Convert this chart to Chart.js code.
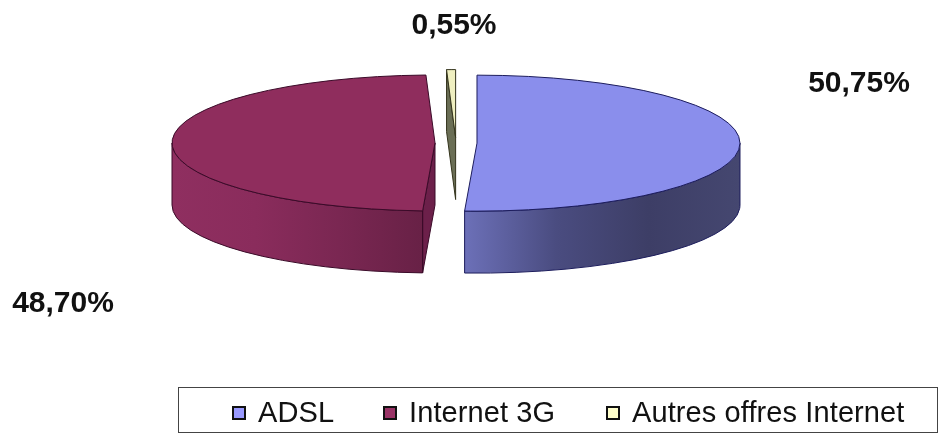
<!DOCTYPE html>
<html>
<head>
<meta charset="utf-8">
<script src="https://cdn.jsdelivr.net/npm/chart.js@4"></script>
<style>
    html, body { margin: 0; padding: 0; background: #fff; }
    #wrap { position: relative; width: 949px; height: 436px; overflow: hidden; font-family: "Liberation Sans", Arial, sans-serif; }
    canvas { position: absolute; left: 0; top: 0; }
    #legend { position: absolute; left: 178px; top: 387px; width: 760px; height: 46px; box-sizing: border-box; border: 1px solid #444; }
    #legend div { position: absolute; top: 0; height: 44px; line-height: 48px; font-size: 29px; letter-spacing: 0.1px; color: #111; white-space: nowrap; }
    #legend i { position: absolute; top: 18px; left: -26px; width: 10px; height: 10px; border: 2px solid #111; }
</style>
</head>
<body>
<div id="wrap">
    <canvas id="pie" width="949" height="436"></canvas>
    <div id="legend"></div>
</div>
<script>
const categories = ['ADSL', 'Internet 3G', 'Autres offres Internet'];
const shares = [50.75, 48.70, 0.55];

const topColors = ['#8a8eec', '#8f2d5d', '#efefc0'];
const swatchColors = ['#9999ff', '#993366', '#ffffcc'];
const edgeColors = ['#1c1c5c', '#3a0a28', '#33331c'];
const faceColors = ['#5b5d9c', '#6c204a', '#6a6e55'];
const wallStops = [
    ['#6c70b8', '#4a4c80', '#3d3e66', '#454770'],
    ['#8f2f60', '#8a2c5c', '#7a2752', '#682146'],
    ['#6a6e55', '#6a6e55', '#6a6e55', '#6a6e55']
];

// place des pourcentages et du texte de la légende
const labelSpots = [[859, 84], [63, 304], [454, 26]];
const legendLefts = [79, 230, 453];

const squash = 0.2585;
const depth = 62;
const explode = 21;

function centerY(chart) {
    return (chart.chartArea.top + chart.chartArea.bottom) / 2;
}

function sliceGeometry(chart, arc) {
    const midY = centerY(chart);
    return {
        cx: arc.x,
        cy: midY + (arc.y - midY) * squash,
        r: arc.outerRadius,
        start: arc.startAngle,
        end: arc.endAngle
    };
}

function topPoint(g, a) {
    return [g.cx + Math.cos(a) * g.r, g.cy + Math.sin(a) * g.r * squash];
}

function drawFace(ctx, g, a, color, edge) {
    const q = topPoint(g, a);
    ctx.beginPath();
    ctx.moveTo(g.cx, g.cy);
    ctx.lineTo(q[0], q[1]);
    ctx.lineTo(q[0], q[1] + depth);
    ctx.lineTo(g.cx, g.cy + depth);
    ctx.closePath();
    ctx.fillStyle = color;
    ctx.strokeStyle = edge;
    ctx.fill();
    ctx.stroke();
}

// le côté du camembert, sous les parts dessinées par Chart.js
const sidePlugin = {
    id: 'side',
    afterDatasetUpdate(chart) {
        // l'option offset de Chart.js rétrécit les petites parts, on écarte donc à la main
        chart.getDatasetMeta(0).data.forEach(arc => {
            const mid = (arc.startAngle + arc.endAngle) / 2;
            arc.x += Math.cos(mid) * explode;
            arc.y += Math.sin(mid) * explode;
        });
    },
    beforeDatasetDraw(chart) {
        const ctx = chart.ctx;
        const arcs = chart.getDatasetMeta(0).data;
        ctx.save();
        ctx.lineWidth = 1;
        arcs.forEach((arc, i) => {
            const g = sliceGeometry(chart, arc);
            // faces coupées visibles seulement si elles regardent vers le bas
            if (-Math.cos(g.start) > 0.001) drawFace(ctx, g, g.start, faceColors[i], edgeColors[i]);
            if (Math.cos(g.end) > 0.001) drawFace(ctx, g, g.end, faceColors[i], edgeColors[i]);

            const a0 = Math.max(g.start, 0);
            const a1 = Math.min(g.end, Math.PI);
            if (a1 > a0) {
                const left = Math.min(topPoint(g, a0)[0], topPoint(g, a1)[0]);
                const right = Math.max(topPoint(g, a0)[0], topPoint(g, a1)[0]);
                const grad = ctx.createLinearGradient(left, 0, right, 0);
                const stops = wallStops[i];
                stops.forEach((c, n) => grad.addColorStop(n / (stops.length - 1), c));
                ctx.beginPath();
                ctx.ellipse(g.cx, g.cy, g.r, g.r * squash, 0, a0, a1);
                ctx.ellipse(g.cx, g.cy + depth, g.r, g.r * squash, 0, a1, a0, true);
                ctx.closePath();
                ctx.fillStyle = grad;
                ctx.strokeStyle = edgeColors[i];
                ctx.fill();
                ctx.stroke();
            }
        });
        ctx.restore();

        // aplatit le disque pour la perspective
        const midY = centerY(chart);
        ctx.save();
        ctx.translate(0, midY);
        ctx.scale(1, squash);
        ctx.translate(0, -midY);
    },
    afterDatasetDraw(chart) {
        const ctx = chart.ctx;
        ctx.restore();
        ctx.save();
        ctx.lineWidth = 1;
        chart.getDatasetMeta(0).data.forEach((arc, i) => {
            const g = sliceGeometry(chart, arc);
            const q = topPoint(g, g.start);
            ctx.beginPath();
            ctx.moveTo(g.cx, g.cy);
            ctx.lineTo(q[0], q[1]);
            ctx.ellipse(g.cx, g.cy, g.r, g.r * squash, 0, g.start, g.end);
            ctx.closePath();
            ctx.strokeStyle = edgeColors[i];
            ctx.stroke();
        });
        ctx.restore();
    },
    afterDraw(chart) {
        const ctx = chart.ctx;
        ctx.save();
        ctx.font = 'bold 30px "Liberation Sans", Arial, sans-serif';
        ctx.fillStyle = '#111';
        ctx.textAlign = 'center';
        ctx.textBaseline = 'middle';
        shares.forEach((v, i) => {
            const text = v.toFixed(2).replace('.', ',') + '%';
            ctx.fillText(text, labelSpots[i][0], labelSpots[i][1]);
        });
        ctx.restore();
    }
};

new Chart(document.getElementById('pie'), {
    type: 'pie',
    data: {
        labels: categories,
        datasets: [{
            data: shares,
            backgroundColor: topColors,
            borderWidth: 0,
            radius: 263,
            clip: false
        }]
    },
    options: {
        responsive: false,
        animation: false,
        events: [],
        layout: { padding: { right: 37, bottom: 150 } },
        plugins: { legend: { display: false }, tooltip: { enabled: false } }
    },
    plugins: [sidePlugin]
});

const legend = document.getElementById('legend');
categories.forEach((name, i) => {
    const item = document.createElement('div');
    item.style.left = legendLefts[i] + 'px';
    item.textContent = name;
    const box = document.createElement('i');
    box.style.background = swatchColors[i];
    item.appendChild(box);
    legend.appendChild(item);
});
</script>
</body>
</html>
